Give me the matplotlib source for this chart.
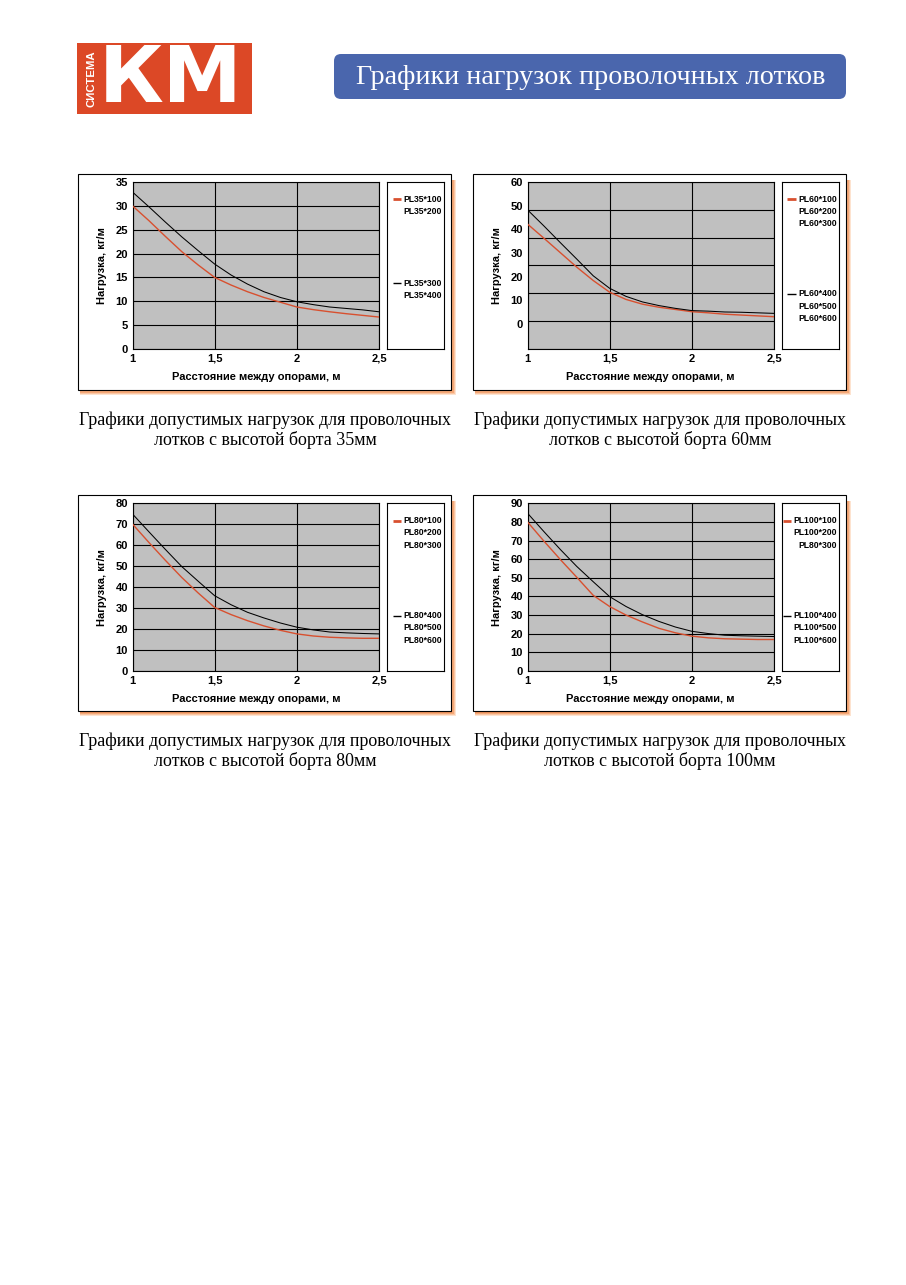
import matplotlib
matplotlib.use('Agg')
import matplotlib.pyplot as plt
from matplotlib.patches import Rectangle, FancyBboxPatch

W, H = 906, 1285

# ---------------- data ----------------
distance_m = [1.0, 1.1, 1.2, 1.3, 1.4, 1.5, 1.6, 1.7, 1.8, 1.9, 2.0, 2.1, 2.2, 2.3, 2.4, 2.5]

pl35_low = [30.0, 26.9, 23.6, 20.4, 17.6, 15.0, 13.4, 12.0, 10.8, 9.8, 8.8, 8.25, 7.8, 7.4, 7.05, 6.7]
pl35_high = [32.9, 29.8, 26.6, 23.5, 20.6, 17.8, 15.5, 13.6, 12.0, 10.8, 9.9, 9.3, 8.8, 8.5, 8.2, 7.8]

pl60_low = [44.9, 39.8, 34.6, 29.4, 24.6, 20.4, 17.8, 16.1, 15.0, 14.2, 13.4, 13.0, 12.5, 12.2, 11.9, 11.6]
pl60_high = [50.0, 44.2, 38.2, 32.3, 26.3, 21.8, 18.9, 16.9, 15.6, 14.6, 13.8, 13.6, 13.3, 13.2, 13.0, 12.8]

pl80_low = [70.1, 61.3, 52.8, 44.6, 37.2, 30.3, 26.9, 24.0, 21.5, 19.4, 17.7, 16.7, 16.1, 15.8, 15.6, 15.6]
pl80_high = [74.9, 66.4, 58.0, 49.8, 42.8, 35.9, 31.6, 28.0, 25.3, 22.9, 20.9, 19.6, 18.6, 18.2, 17.9, 17.7]

pl100_low = [80.0, 69.7, 59.8, 50.3, 40.6, 34.6, 30.0, 26.3, 22.9, 20.5, 18.7, 17.8, 17.3, 17.1, 16.9, 16.9]
pl100_high = [84.7, 74.8, 65.2, 56.1, 47.9, 39.9, 34.6, 30.2, 26.6, 23.6, 21.3, 20.1, 19.2, 18.9, 18.7, 18.5]

x_ticks = [1.0, 1.5, 2.0, 2.5]
x_ticklabels = ['1', '1,5', '2', '2,5']

names35_low = ['PL35*100', 'PL35*200']
names35_high = ['PL35*300', 'PL35*400']
names60_low = ['PL60*100', 'PL60*200', 'PL60*300']
names60_high = ['PL60*400', 'PL60*500', 'PL60*600']
names80_low = ['PL80*100', 'PL80*200', 'PL80*300']
names80_high = ['PL80*400', 'PL80*500', 'PL80*600']
names100_low = ['PL100*100', 'PL100*200', 'PL80*300']
names100_high = ['PL100*400', 'PL100*500', 'PL100*600']

title_text = 'Графики нагрузок проволочных лотков'
caption_line1 = 'Графики допустимых нагрузок для проволочных'
captions_line2 = ['лотков с высотой борта 35мм', 'лотков с высотой борта 60мм',
                  'лотков с высотой борта 80мм', 'лотков с высотой борта 100мм']
xlabel_text = 'Расстояние между опорами, м'
ylabel_text = 'Нагрузка, кг/м'

# ---------------- style ----------------
RED = '#d8502f'
GRAY = '#c0c0c0'
LOGO_RED = '#dc4826'
BLUE = '#4a66ad'
SANS = ['Liberation Sans', 'DejaVu Sans']
SERIF = ['Liberation Serif', 'DejaVu Serif']
TICK_FS = 8
LABEL_FS = 8

fig = plt.figure(figsize=(W / 100, H / 100), dpi=100)
renderer = fig.canvas.get_renderer()
bg = fig.add_axes([0, 0, 1, 1])
bg.set_xlim(0, W)
bg.set_ylim(H, 0)
bg.axis('off')
bg.set_zorder(0)


def frac(x0, y0, x1, y1):
    return [x0 / W, 1 - y1 / H, (x1 - x0) / W, (y1 - y0) / H]


def fit_text(t, target, size0, vertical=False):
    bb = t.get_window_extent(renderer)
    cur = bb.height if vertical else bb.width
    t.set_fontsize(size0 * target / cur)


# ---------------- header ----------------
bg.add_patch(Rectangle((77, 43), 175, 71, facecolor=LOGO_RED, edgecolor='none'))
t = bg.text(91.5, 79, 'СИСТЕМА', rotation=90, color='white', fontsize=9, weight='bold',
            family=SANS, ha='center', va='center')
fit_text(t, 57, 9, vertical=True)
t = bg.text(171, 80, 'КМ', color='white', fontsize=50, weight='heavy',
            family=['DejaVu Sans'], ha='center', va='center')
fit_text(t, 144, 50)

bg.add_patch(FancyBboxPatch((334, 54), 512, 45, boxstyle='round,pad=0,rounding_size=7',
                            facecolor=BLUE, edgecolor='none'))
t = bg.text(591, 77.5, title_text, color='white', fontsize=18, family=SERIF,
            ha='center', va='center')
fit_text(t, 468, 18)

# ---------------- panels ----------------
panels = [
    dict(low=pl35_low, high=pl35_high, ylim=(0, 35), yticks=list(range(0, 36, 5)), label_ylim=None,
         nlow=names35_low, nhigh=names35_high, boff=101.3, dx=0, dy=0, cap=captions_line2[0]),
    dict(low=pl60_low, high=pl60_high, ylim=(0, 60), yticks=list(range(0, 61, 10)), label_ylim=(-10.5, 60),
         nlow=names60_low, nhigh=names60_high, boff=112, dx=395, dy=0, cap=captions_line2[1]),
    dict(low=pl80_low, high=pl80_high, ylim=(0, 80), yticks=list(range(0, 81, 10)), label_ylim=None,
         nlow=names80_low, nhigh=names80_high, boff=112.4, dx=0, dy=321.3, cap=captions_line2[2]),
    dict(low=pl100_low, high=pl100_high, ylim=(0, 90), yticks=list(range(0, 91, 10)), label_ylim=None,
         nlow=names100_low, nhigh=names100_high, boff=112.4, dx=395, dy=321.3, cap=captions_line2[3]),
]

for p in panels:
    dx, dy = p['dx'], p['dy']
    bx0, by0, bx1, by1 = 78 + dx, 174 + dy, 451 + dx, 390 + dy
    # shadow
    for off, col in [(5.0, '#fde3d0'), (3.8, '#fac6a4'), (2.5, '#f4a877'), (1.3, '#ee935c')]:
        bg.add_patch(Rectangle((bx0 + 2, by0 + 6), bx1 - bx0 + off - 2, by1 - by0 + off - 6,
                               facecolor=col, edgecolor='none'))
    bg.add_patch(Rectangle((bx0, by0), bx1 - bx0, by1 - by0, facecolor='white',
                           edgecolor='black', lw=0.8))

    px0, py0, px1, py1 = 132.5 + dx, 182 + dy, 379 + dx, 349 + dy + (0.7 if dy else 0)
    ax = fig.add_axes(frac(px0, py0, px1, py1))
    ax.set_zorder(2)
    ax.set_facecolor(GRAY)
    ax.plot(distance_m, p['low'], color=RED, lw=1.0, zorder=3)
    ax.plot(distance_m, p['high'], color='black', lw=0.75, zorder=3)
    ax.set_xlim(1, 2.5)
    ax.set_ylim(*p['ylim'])
    ax.set_xticks(x_ticks)
    ax.set_xticklabels(x_ticklabels)
    ax.set_yticks(p['yticks'])
    ax.grid(True, color='black', lw=0.8)
    ax.set_axisbelow(True)
    ax.tick_params(length=0, labelsize=TICK_FS, pad=3.3)
    for lab in ax.get_xticklabels() + ax.get_yticklabels():
        lab.set_fontweight('bold')
        lab.set_family(SANS)
    for s in ax.spines.values():
        s.set_color('black')
        s.set_linewidth(0.8)
    ax.set_xlabel(xlabel_text, fontsize=LABEL_FS, weight='bold', family=SANS, va='center')
    ax.xaxis.set_label_coords(0.5, -0.166)
    ax.set_ylabel(ylabel_text, fontsize=LABEL_FS, weight='bold', family=SANS, va='center', ha='center')
    ax.yaxis.set_label_coords(-0.125, 0.5)

    if p['label_ylim'] is not None:
        ax.tick_params(labelleft=False)
        ax2 = ax.twinx()
        ax2.set_ylim(*p['label_ylim'])
        ax2.set_yticks(p['yticks'])
        ax2.yaxis.tick_left()
        ax2.tick_params(length=0, labelsize=TICK_FS, pad=3.3, left=False, right=False)
        for lab in ax2.get_yticklabels():
            lab.set_fontweight('bold')
            lab.set_family(SANS)
        for s in ax2.spines.values():
            s.set_visible(False)

    # legend box
    lx0, lx1 = 386.7 + dx, 444.3 + dx
    lax = fig.add_axes(frac(lx0, py0, lx1, py1))
    lax.set_zorder(2)
    lax.set_xlim(lx0, lx1)
    lax.set_ylim(py1, py0)
    lax.set_xticks([])
    lax.set_yticks([])
    for s in lax.spines.values():
        s.set_color('black')
        s.set_linewidth(0.8)
    tx = lx1 - 2.6
    for names, y_start, col, lw in [(p['nlow'], py0 + 17.3, RED, 2.0),
                                     (p['nhigh'], py0 + p['boff'], 'black', 1.0)]:
        for i, nm in enumerate(names):
            tt = lax.text(tx, y_start + i * 12.3, nm, fontsize=6.2, weight='bold', family=SANS,
                          ha='right', va='center')
            if i == 0:
                bb = tt.get_window_extent(renderer)
                left_px = tx - bb.width
                lax.plot([left_px - 10.5, left_px - 2], [y_start, y_start], color=col, lw=lw,
                         solid_capstyle='butt')

    # captions
    cx = (bx0 + bx1) / 2 + 0.5
    t1 = bg.text(cx, 420 + dy, caption_line1, fontsize=11, family=SERIF, ha='center', va='center')
    fit_text(t1, 374, 11)
    bg.text(cx, 440 + dy, p['cap'], fontsize=t1.get_fontsize(), family=SERIF, ha='center', va='center')

fig.savefig('out.png', dpi=100)
